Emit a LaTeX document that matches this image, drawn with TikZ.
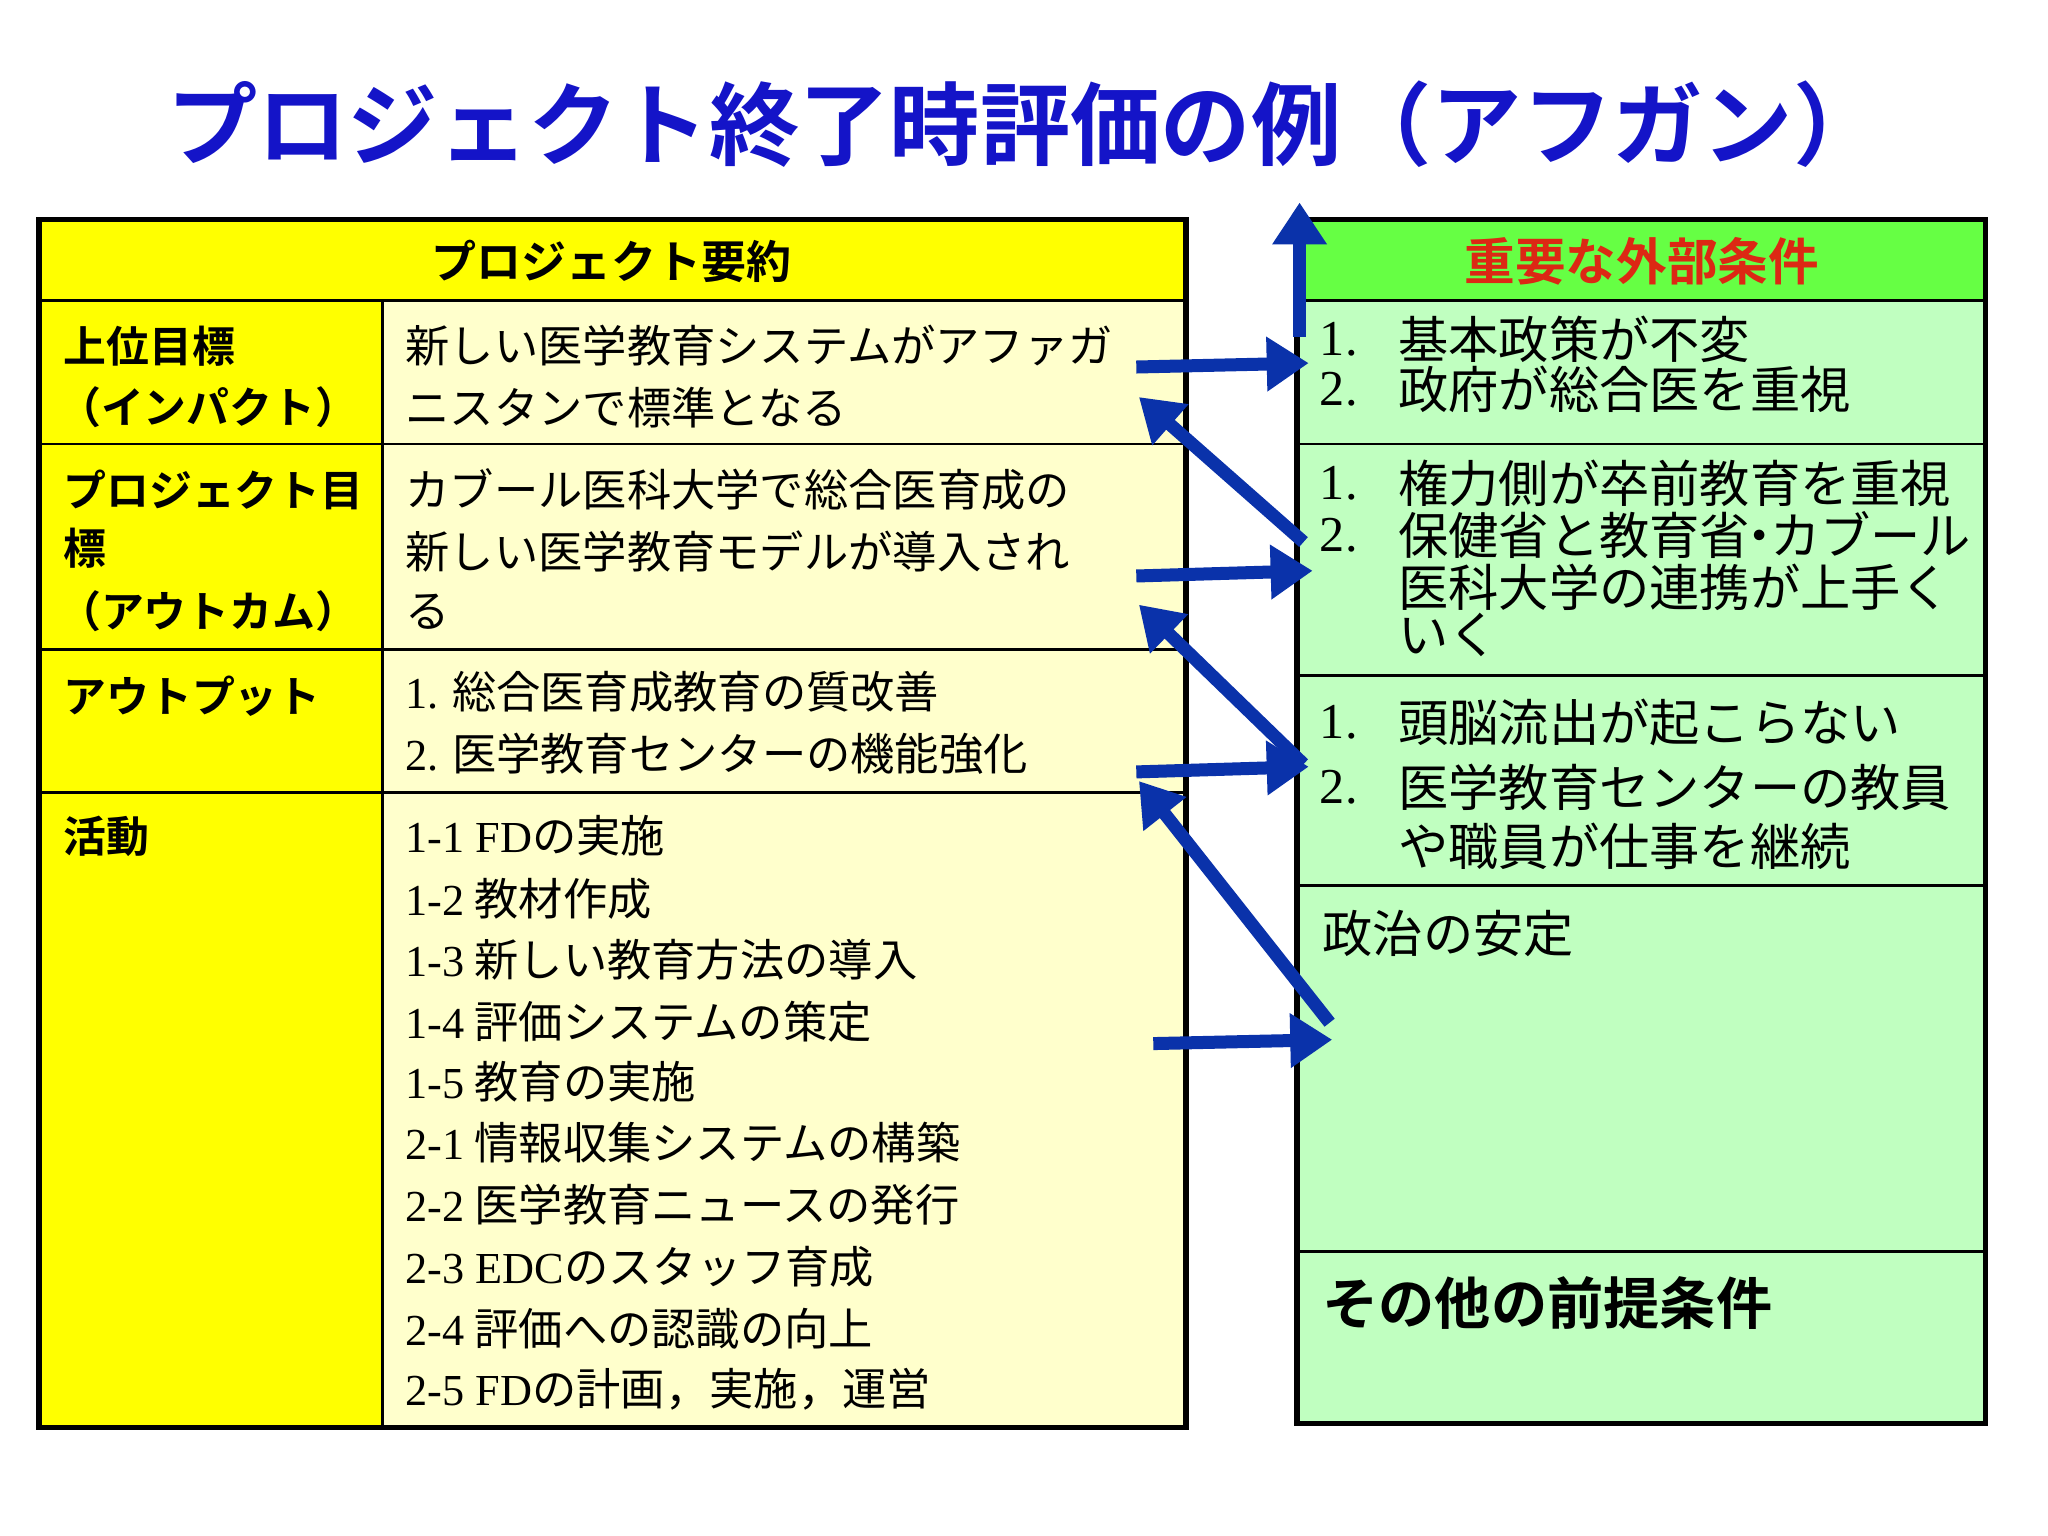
\documentclass[tikz,border=0pt]{standalone}
\usepackage{fontspec}
\setmainfont{Noto Sans CJK JP}
\newfontfamily\jpb{Noto Sans CJK JP Bold}
\newfontfamily\jser{Liberation Serif}
\usetikzlibrary{arrows.meta}
\definecolor{ttl}{RGB}{20,20,200}
\definecolor{ylw}{RGB}{255,255,0}
\definecolor{lylw}{RGB}{255,255,204}
\definecolor{grnh}{RGB}{102,255,68}
\definecolor{lgrn}{RGB}{192,255,192}
\definecolor{arr}{RGB}{10,50,170}
\definecolor{hred}{RGB}{220,40,20}
\tikzset{
 lt/.style={anchor=west,inner sep=0pt,font=\fontsize{12.6}{14}\selectfont},
 lb/.style={anchor=west,inner sep=0pt,font=\jpb\fontsize{12.2}{14}\selectfont},
 rt/.style={anchor=west,inner sep=0pt,font=\fontsize{14.3}{16}\selectfont},
 bigarrow/.style={draw=arr,line width=3.7pt,-{Triangle[length=0.42cm,width=0.52cm]}},
 grid/.style={line width=0.8pt},
 frame/.style={line width=1.6pt}
}
\begin{document}
\begin{tikzpicture}[x=0.013061cm,y=-0.013061cm]
\useasboundingbox (0,0) rectangle (1568,1176);
\fill[white] (0,0) rectangle (1568,1176);
\node[font=\jpb\fontsize{25.7}{30}\selectfont,text=ttl] (title) at (785,95) {プロジェクト終了時評価の例（アフガン）};
% left table
\fill[ylw] (30,168) rectangle (908,230);
\fill[ylw] (30,230) rectangle (293,1093);
\fill[lylw] (293,230) rectangle (908,1093);
\draw[grid] (30,230)--(908,230) (30,340)--(908,340) (30,497)--(908,497) (30,607)--(908,607) (293,230)--(293,1093);
\draw[frame] (30,168) rectangle (908,1093);
\node[font=\jpb\fontsize{12.8}{15}\selectfont] (hl) at (468,200) {プロジェクト要約};
\node[lb] (a1) at (48,265) {上位目標};
\node[lb] (a2) at (44,312) {（インパクト）};
\node[lb] (b1) at (48,375) {プロジェクト目};
\node[lb] (b2) at (48,420) {標};
\node[lb] (b3) at (44,468) {（アウトカム）};
\node[lb] (c1) at (48,533) {アウトプット};
\node[lb] (d1) at (48,640) {活動};
\node[lt] (e1) at (310,265) {新しい医学教育システムがアファガ};
\node[lt] (e2) at (310,312) {ニスタンで標準となる};
\node[lt] (f1) at (310,375) {カブール医科大学で総合医育成の};
\node[lt] (f2) at (310,422) {新しい医学教育モデルが導入され};
\node[lt] (f3) at (310,468) {る};
\node[lt] (g1) at (310,530) {{\jser 1.} 総合医育成教育の質改善};
\node[lt] (g2) at (310,577) {{\jser 2.} 医学教育センターの機能強化};
\node[lt] (h1) at (310,640) {{\jser 1-1 FD}の実施};
\node[lt] (h2) at (310,688) {{\jser 1-2} 教材作成};
\node[lt] (h3) at (310,735) {{\jser 1-3} 新しい教育方法の導入};
\node[lt] (h4) at (310,782) {{\jser 1-4} 評価システムの策定};
\node[lt] (h5) at (310,828) {{\jser 1-5} 教育の実施};
\node[lt] (h6) at (310,875) {{\jser 2-1} 情報収集システムの構築};
\node[lt] (h7) at (310,922) {{\jser 2-2} 医学教育ニュースの発行};
\node[lt] (h8) at (310,970) {{\jser 2-3 EDC}のスタッフ育成};
\node[lt] (h9) at (310,1017) {{\jser 2-4} 評価への認識の向上};
\node[lt] (h10) at (310,1064) {{\jser 2-5 FD}の計画，実施，運営};
% right table
\fill[grnh] (993,168) rectangle (1520,230);
\fill[lgrn] (993,230) rectangle (1520,1090);
\draw[grid] (993,230)--(1520,230) (993,340)--(1520,340) (993,517)--(1520,517) (993,678)--(1520,678) (993,958)--(1520,958);
\draw[frame] (993,168) rectangle (1520,1090);
\node[font=\jpb\fontsize{14.4}{16}\selectfont,text=hred] (hr) at (1257,200) {重要な外部条件};
\node[rt] (n1) at (1010,260) {\jser 1.};
\node[rt] (p1) at (1070,260) {基本政策が不変};
\node[rt] (n2) at (1010,298) {\jser 2.};
\node[rt] (p2) at (1070,298) {政府が総合医を重視};
\node[rt] (n3) at (1010,370) {\jser 1.};
\node[rt] (q1) at (1070,370) {権力側が卒前教育を重視};
\node[rt] (n4) at (1010,410) {\jser 2.};
\node[rt] (q2) at (1070,410) {保健省と教育省{\kern-0.3em}・{\kern-0.3em}カブール};
\node[rt] (q3) at (1070,450) {医科大学の連携が上手く};
\node[rt] (q4) at (1070,486) {いく};
\node[rt] (n5) at (1010,553) {\jser 1.};
\node[rt] (r1) at (1070,553) {頭脳流出が起こらない};
\node[rt] (n6) at (1010,603) {\jser 2.};
\node[rt] (r2) at (1070,603) {医学教育センターの教員};
\node[rt] (r3) at (1070,648) {や職員が仕事を継続};
\node[rt] (s1) at (1012,715) {政治の安定};
\node[anchor=west,inner sep=0pt,font=\jpb\fontsize{16}{18}\selectfont] (t1) at (1012,998) {その他の前提条件};
% arrows
\coordinate (u0) at (995,258); \coordinate (u1) at (995,155);
\coordinate (A0) at (870,281); \coordinate (A1) at (1002,278);
\coordinate (B0) at (998,415); \coordinate (B1) at (872,304);
\coordinate (C0) at (870,441); \coordinate (C1) at (1005,437);
\coordinate (D0) at (998,585); \coordinate (D1) at (872,463);
\coordinate (E0) at (870,591); \coordinate (E1) at (1002,587);
\coordinate (F0) at (1018,783); \coordinate (F1) at (872,598);
\coordinate (G0) at (883,799); \coordinate (G1) at (1020,796);
\foreach \s/\e in {u0/u1,A0/A1,B0/B1,C0/C1,D0/D1,E0/E1,F0/F1,G0/G1}
  \draw[bigarrow] (\s)--(\e);
\end{tikzpicture}
\end{document}
